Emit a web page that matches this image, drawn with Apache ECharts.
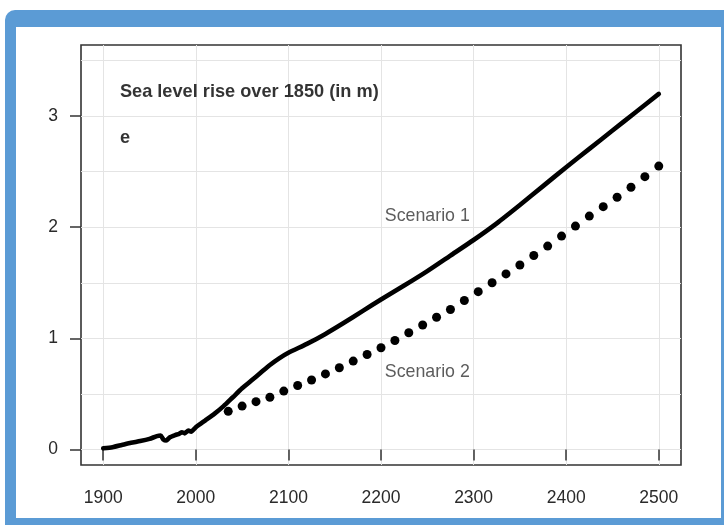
<!DOCTYPE html>
<html>
<head>
<meta charset="utf-8">
<script src="https://cdn.jsdelivr.net/npm/echarts@6/dist/echarts.min.js"></script>
<style>
  html, body { margin: 0; padding: 0; width: 724px; height: 525px; overflow: hidden; background: #fff; }
  #frame { position: absolute; left: 5px; top: 10px; width: 740px; height: 540px; background: #5b9bd5; border-radius: 10px; }
  #panel { position: absolute; left: 16px; top: 27px; width: 705px; height: 491px; background: #fff; }
  #chart { position: absolute; left: 0; top: 0; width: 724px; height: 525px; }
</style>
</head>
<body>
<div id="frame"></div>
<div id="panel"></div>
<div id="chart"></div>
<script>
// Scenario 1: observed record followed by the higher projection (m above 1850)
const years1 = [1900, 1910, 1920, 1930, 1940, 1950, 1958, 1962, 1965, 1968, 1972, 1978, 1982, 1985, 1988, 1992, 1995, 2000,
  2005, 2010, 2020, 2030, 2040, 2050, 2060, 2070, 2080, 2090, 2100, 2120, 2140, 2160, 2180, 2200, 2225, 2250, 2275,
  2300, 2325, 2350, 2375, 2400, 2425, 2450, 2475, 2500];
const rise1 = [0.01, 0.02, 0.04, 0.06, 0.075, 0.095, 0.12, 0.125, 0.09, 0.08, 0.11, 0.13, 0.14, 0.155, 0.145, 0.17, 0.16, 0.2,
  0.23, 0.26, 0.32, 0.39, 0.47, 0.55, 0.62, 0.69, 0.76, 0.82, 0.87, 0.95, 1.04, 1.14, 1.245, 1.35, 1.475, 1.605, 1.745,
  1.885, 2.035, 2.2, 2.37, 2.54, 2.705, 2.87, 3.035, 3.2];

// Scenario 2: lower projection, one point every 15 years
const years2 = [2035, 2050, 2065, 2080, 2095, 2110, 2125, 2140, 2155, 2170, 2185, 2200, 2215, 2230, 2245, 2260,
  2275, 2290, 2305, 2320, 2335, 2350, 2365, 2380, 2395, 2410, 2425, 2440, 2455, 2470, 2485, 2500];
const rise2 = [0.343, 0.39, 0.43, 0.47, 0.525, 0.575, 0.625, 0.68, 0.735, 0.795, 0.855, 0.915, 0.98, 1.05, 1.12, 1.19,
  1.26, 1.34, 1.42, 1.5, 1.58, 1.66, 1.745, 1.83, 1.92, 2.01, 2.1, 2.185, 2.27, 2.36, 2.455, 2.55];

const xTicks = [1900, 2000, 2100, 2200, 2300, 2400, 2500];
const yTicks = [0, 1, 2, 3];
const yGridValues = [0, 0.5, 1, 1.5, 2, 2.5, 3, 3.5];

const titleText = 'Sea level rise over 1850 (in m)';
const panelLetter = 'e';
const scenarioNames = ['Scenario 1', 'Scenario 2'];

const FONT = '"Liberation Sans", Arial, Helvetica, sans-serif';
const X_MIN = 1876, X_MAX = 2524, Y_MIN = -0.14, Y_MAX = 3.64;

const chart = echarts.init(document.getElementById('chart'), null, { renderer: 'canvas' });

function textPoint(x, y, text, style) {
  return {
    value: [x, y],
    label: Object.assign({ show: true, formatter: text, fontFamily: FONT }, style)
  };
}

chart.setOption({
  animation: false,
  backgroundColor: 'transparent',
  grid: {
    left: 81, right: 43, top: 45, bottom: 60,
    show: true, borderColor: '#333', borderWidth: 1.6, backgroundColor: 'transparent'
  },
  xAxis: [{
    type: 'value', min: X_MIN, max: X_MAX,
    axisLine: { show: false },
    axisTick: { show: true, customValues: xTicks, length: 11, lineStyle: { color: '#333', width: 1.5 } },
    axisLabel: { customValues: xTicks, formatter: v => String(v), margin: 24, fontSize: 17.5, color: '#2a2a2a', fontFamily: FONT },
    splitLine: { show: true, lineStyle: { color: '#e4e4e4', width: 1 } }
  }],
  yAxis: [{
    type: 'value', min: Y_MIN, max: Y_MAX,
    axisLine: { show: false },
    axisTick: { show: true, customValues: yTicks, length: 11, lineStyle: { color: '#333', width: 1.5 } },
    axisLabel: { customValues: yTicks, formatter: v => String(v), margin: 23, fontSize: 17.5, color: '#2a2a2a', fontFamily: FONT },
    splitLine: { show: false }
  }, {
    type: 'value', min: Y_MIN, max: Y_MAX, position: 'left',
    axisLine: { show: false },
    axisTick: { show: false, customValues: yGridValues },
    axisLabel: { show: false },
    splitLine: { show: true, lineStyle: { color: '#e4e4e4', width: 1 } }
  }],
  series: [{
    name: scenarioNames[0],
    type: 'line',
    data: years1.map((y, i) => [y, rise1[i]]),
    showSymbol: false,
    smooth: 0.2,
    lineStyle: { color: '#000', width: 4.6, cap: 'round', join: 'round' },
    z: 3
  }, {
    name: scenarioNames[1],
    type: 'scatter',
    data: years2.map((y, i) => [y, rise2[i]]),
    symbol: 'circle',
    symbolSize: 9,
    itemStyle: { color: '#000', opacity: 1 },
    z: 3
  }, {
    type: 'scatter',
    symbolSize: 0,
    silent: true,
    z: 4,
    data: [
      textPoint(1918, 3.22, titleText, { position: 'right', distance: 0, fontSize: 18.2, fontWeight: 'bold', color: '#000' }),
      textPoint(1918, 2.8, panelLetter, { position: 'right', distance: 0, fontSize: 18.2, fontWeight: 'bold', color: '#000' }),
      textPoint(2250, 2.1, scenarioNames[0], { position: 'inside', fontSize: 17.8, color: '#333' }),
      textPoint(2250, 0.7, scenarioNames[1], { position: 'inside', fontSize: 17.8, color: '#333' })
    ]
  }]
});
</script>
</body>
</html>
